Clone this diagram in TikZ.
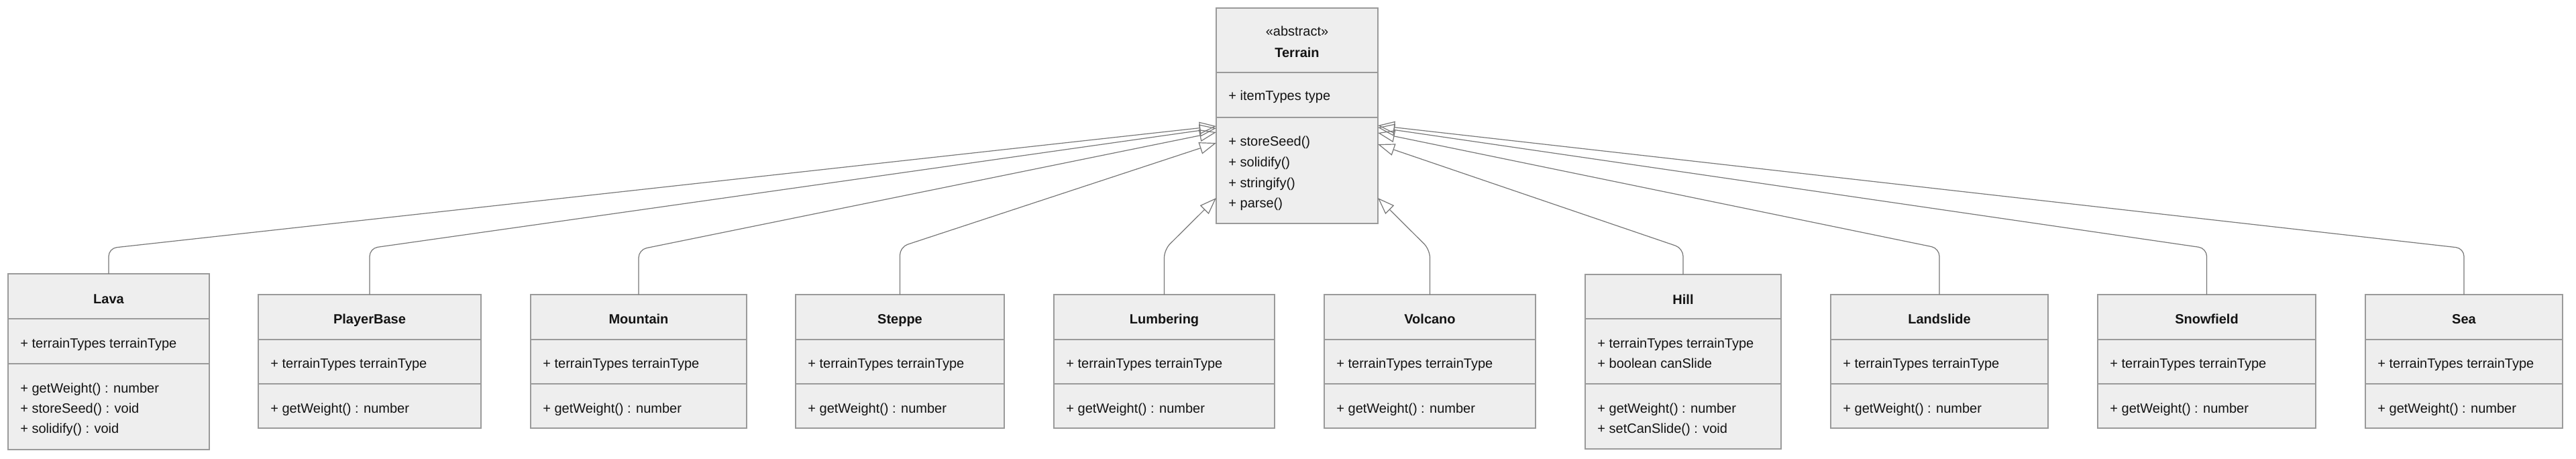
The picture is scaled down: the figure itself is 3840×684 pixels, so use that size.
\documentclass[tikz,border=0pt]{standalone}
\usepackage{fontspec}
\setmainfont{Liberation Sans}
\usetikzlibrary{arrows.meta,fit}
\definecolor{boxfill}{HTML}{EEEEEE}
\definecolor{boxline}{HTML}{9A9A9A}
\definecolor{edgeline}{HTML}{777777}
\definecolor{txt}{HTML}{131313}
\newcommand\classrect[5]{%
  \path (#2,#3) coordinate (#1-nw) (#4,#5) coordinate (#1-se);
  \node[classbox, fit=(#1-nw)(#1-se)] (#1) {};}
\newcommand\hdiv[2]{\draw[divider] (#1.west |- 0,#2) -- (#1.east |- 0,#2);}
\newcommand\smallclass[4]{%
  \classrect{#1}{#2}{439}{#3}{638}
  \hdiv{#1}{506}\hdiv{#1}{572}
  \node[title] (#1-t) at (#1.center |- 0,482) {#4};
  \node[member] (#1-a) at ([xshift=9pt]#1.west |- 0,548) {+ terrainTypes terrainType};
  \node[member] (#1-m) at ([xshift=9pt]#1.west |- 0,615) {+ getWeight() : number};}
\begin{document}
\begin{tikzpicture}[x=0.5pt,y=-0.5pt,
  classbox/.style={draw=boxline, fill=boxfill, line width=0.75pt, inner sep=0pt, outer sep=0pt},
  divider/.style={draw=boxline, line width=0.75pt},
  title/.style={anchor=base, inner sep=0pt, font=\fontsize{10pt}{12pt}\selectfont\bfseries, text=txt},
  member/.style={anchor=base west, inner sep=0pt, font=\fontsize{10pt}{12pt}\selectfont, text=txt},
  stereo/.style={anchor=base, inner sep=0pt, font=\fontsize{10pt}{12pt}\selectfont, text=txt},
  gen/.style={draw=edgeline, line width=0.6pt, rounded corners=6pt, -{Triangle[open, length=12.5pt, width=9pt]}},
]
\path[fill=white, use as bounding box] (0,0) rectangle (3840,684);

% Terrain
\classrect{terrain}{1813}{12}{2054}{333}
\hdiv{terrain}{108}\hdiv{terrain}{175}
\node[stereo] (terrain-s) at (terrain.center |- 0,54) {«abstract»};
\node[title] (terrain-t) at (terrain.center |- 0,86) {Terrain};
\node[member] (terrain-a) at ([xshift=9pt]terrain.west |- 0,150) {+ itemTypes type};
\node[member] (terrain-m1) at ([xshift=9pt]terrain.west |- 0,218) {+ storeSeed()};
\node[member] (terrain-m2) at ([xshift=9pt]terrain.west |- 0,249) {+ solidify()};
\node[member] (terrain-m3) at ([xshift=9pt]terrain.west |- 0,280) {+ stringify()};
\node[member] (terrain-m4) at ([xshift=9pt]terrain.west |- 0,310) {+ parse()};

% Lava
\classrect{lava}{12}{408}{312}{670}
\hdiv{lava}{475}\hdiv{lava}{542}
\node[title] (lava-t) at (lava.center |- 0,452) {Lava};
\node[member] (lava-a) at ([xshift=9pt]lava.west |- 0,518) {+ terrainTypes terrainType};
\node[member] (lava-m1) at ([xshift=9pt]lava.west |- 0,585) {+ getWeight() : number};
\node[member] (lava-m2) at ([xshift=9pt]lava.west |- 0,615) {+ storeSeed() : void};
\node[member] (lava-m3) at ([xshift=9pt]lava.west |- 0,645) {+ solidify() : void};

% Hill
\classrect{hill}{2363}{409}{2655}{669}
\hdiv{hill}{475}\hdiv{hill}{572}
\node[title] (hill-t) at (hill.center |- 0,453) {Hill};
\node[member] (hill-a1) at ([xshift=9pt]hill.west |- 0,518) {+ terrainTypes terrainType};
\node[member] (hill-a2) at ([xshift=9pt]hill.west |- 0,548) {+ boolean canSlide};
\node[member] (hill-m1) at ([xshift=9pt]hill.west |- 0,615) {+ getWeight() : number};
\node[member] (hill-m2) at ([xshift=9pt]hill.west |- 0,645) {+ setCanSlide() : void};

% simple classes
\smallclass{player}{385}{717}{PlayerBase}
\smallclass{mountain}{791}{1113}{Mountain}
\smallclass{steppe}{1186}{1497}{Steppe}
\smallclass{lumber}{1571}{1900}{Lumbering}
\smallclass{volcano}{1974}{2289}{Volcano}
\smallclass{landslide}{2729}{3053}{Landslide}
\smallclass{snow}{3127}{3452}{Snowfield}
\smallclass{sea}{3526}{3820}{Sea}

% generalisations
\draw[gen] (lava.north) -- (lava.north |- 0,370) -- (terrain.west |- 0,188);
\draw[gen] (player.north) -- (player.north |- 0,370) -- (terrain.west |- 0,191);
\draw[gen] (mountain.north) -- (mountain.north |- 0,372) -- (terrain.west |- 0,197);
\draw[gen] (steppe.north) -- (steppe.north |- 0,368) -- (terrain.west |- 0,213);
\draw[gen] (lumber.north) -- (lumber.north |- 0,372) -- (terrain.west |- 0,295);
\draw[gen] (volcano.north) -- (volcano.north |- 0,372) -- (terrain.east |- 0,295);
\draw[gen] (hill.north) -- (hill.north |- 0,370) -- (terrain.east |- 0,215);
\draw[gen] (landslide.north) -- (landslide.north |- 0,370) -- (terrain.east |- 0,198);
\draw[gen] (snow.north) -- (snow.north |- 0,370) -- (terrain.east |- 0,190);
\draw[gen] (sea.north) -- (sea.north |- 0,370) -- (terrain.east |- 0,187);
\end{tikzpicture}
\end{document}
